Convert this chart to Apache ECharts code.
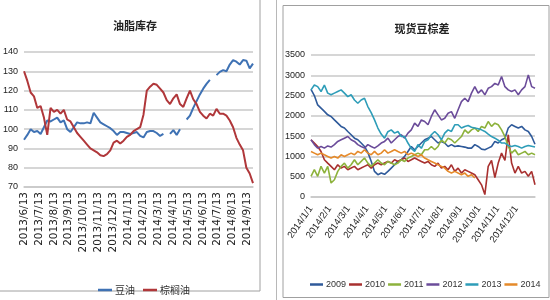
<!DOCTYPE html>
<html><head><meta charset="utf-8">
<script src="https://cdn.jsdelivr.net/npm/echarts@6/dist/echarts.min.js"></script>
<style>html,body{margin:0;padding:0;background:#fff}#c{width:550px;height:300px}</style>
</head><body><div id="c"></div>
<script>
// ---- left chart: 油脂库存 ----
const leftTicks = ['2013/6/13','2013/7/13','2013/8/13','2013/9/13','2013/10/13','2013/11/13','2013/12/13','2014/1/13','2014/2/13','2014/3/13','2014/4/13','2014/5/13','2014/6/13','2014/7/13','2014/8/13','2014/9/13'];
const leftSpanMonths = 15.37;
const soyOil = [94.5,97,100,98.5,99,97.5,101,104.5,104,105,106,103.5,104.5,100,98.5,101,103.5,103,103,103.5,103,108.5,106,103.5,102.5,101.5,100.5,99,97,98.5,98.5,98,97.5,98,98.5,96.5,95.7,98.5,99,99,98,96.5,97.5,null,97.5,99.5,97,100,null,105,107,111,114.5,118,121,123.5,125.5,null,128,129.7,130.6,130,133.5,135.8,135,133.5,135.8,135.5,131.5,134];
const palmOil = [130,125,119,117,111,112,106,97,111,109,110,108,110,105,104,101,98,96,94,92,90,89,88,86.5,86,87,89,93,94,92.5,94,96,97,99,100,101,107.5,120,122,123.5,123,121,119,115,113,116,118,113,111.5,116,120,115.5,113,109,107,105.5,108,107,110.5,108,108,107,104.5,101,95.5,92,89,80,77,72];

// ---- right chart: 现货豆棕差 ----
const rightTicks = ['2014/1/1','2014/2/1','2014/3/1','2014/4/1','2014/5/1','2014/6/1','2014/7/1','2014/8/1','2014/9/1','2014/10/1','2014/11/1','2014/12/1'];
const rightSpanMonths = 12;
const y2009 = [2650,2500,2270,2190,2110,2025,1985,1900,1820,1740,1700,1615,1535,1450,1410,1330,1245,1100,880,631,550,590,560,631,713,795,877,918,1000,1123,1245,1165,1245,1330,1410,1450,1490,1410,1330,1370,1330,1245,1290,1245,1260,1245,1230,1205,1205,1290,1245,1180,1165,1205,1245,1370,1330,1410,1450,1700,1780,1740,1700,1740,1655,1615,1490,1300];
const y2010 = [1410,1330,1245,1123,918,836,755,672,795,713,755,672,713,755,672,713,755,795,713,795,836,795,836,877,836,918,877,918,960,877,918,960,918,877,836,877,795,755,836,713,755,672,795,631,713,590,672,631,590,550,426,300,60,755,900,480,836,1082,900,1535,836,590,755,590,631,510,631,303];
const y2011 = [510,672,510,755,590,755,345,426,631,755,836,713,795,918,795,877,960,836,755,836,918,836,795,877,836,795,836,918,877,960,1000,1040,1082,1040,1165,1165,1245,1165,1245,1410,1330,1450,1410,1330,1410,1490,1655,1575,1655,1700,1615,1740,1700,1860,1740,1820,1780,1655,1490,1245,1082,1165,1040,1082,1123,1040,1082,1040];
const y2012 = [1410,1290,1205,1245,1205,1260,1230,1290,1370,1410,1450,1490,1410,1370,1290,1245,1205,1290,1245,1205,1260,1330,1370,1450,1330,1410,1490,1535,1450,1575,1655,1820,1740,1900,1860,1780,1985,2150,2025,1900,1940,2065,2105,1940,2150,2350,2435,2350,2560,2720,2560,2640,2520,2680,2720,2800,2760,2970,2720,2640,2600,2640,2520,2640,2720,3010,2720,2680];
const y2013 = [2640,2760,2720,2600,2760,2560,2520,2560,2600,2640,2560,2475,2520,2390,2310,2390,2435,2230,2080,1900,1700,1550,1450,1610,1655,1575,1615,1490,1490,1330,1200,1125,1290,1200,1370,1410,1535,1615,1535,1410,1575,1655,1615,1780,1780,1700,1740,1760,1720,1700,1680,1655,1615,1550,1490,1450,1400,1330,1330,1270,1245,1270,1245,1205,1245,1270,1250,1230];
const y2014 = [1123,1082,1040,1082,1040,1000,960,1000,960,1040,1000,1040,1082,1040,1123,1082,1165,1082,1040,1123,1040,1082,1165,1082,1123,1165,1123,1082,1123,1040,1082,1040,1000,1040,960,918,877,836,795,755,713,631,590,631,590,550,590,510,550,467];
const yearNames = ['2009','2010','2011','2012','2013','2014'];
const yearData = [y2009,y2010,y2011,y2012,y2013,y2014];
const yearColors = ['#2F5A9A','#A8302F','#8DB23C','#6B4C9A','#2E9DB8','#E58A2A'];

function pairs(arr, span, n) {
  const step = span / (n - 1);
  return arr.map((v, i) => [i * step, v]);
}

const chart = echarts.init(document.getElementById('c'));
const labelFont = 'Liberation Sans';
const series = [
  {name:'豆油', type:'line', xAxisIndex:0, yAxisIndex:0, showSymbol:false, symbol:'none', connectNulls:false,
   data: pairs(soyOil, leftSpanMonths, soyOil.length), lineStyle:{width:2, color:'#3F72B4'}, itemStyle:{color:'#3F72B4'}},
  {name:'棕榈油', type:'line', xAxisIndex:0, yAxisIndex:0, showSymbol:false, symbol:'none',
   data: pairs(palmOil, leftSpanMonths, palmOil.length), lineStyle:{width:2, color:'#B0373A'}, itemStyle:{color:'#B0373A'}}
];
yearNames.forEach((nm, k) => {
  series.push({name:nm, type:'line', xAxisIndex:1, yAxisIndex:1, showSymbol:false, symbol:'none',
    data: pairs(yearData[k], rightSpanMonths * (yearData[k].length - 1) / (y2009.length - 1), yearData[k].length),
    lineStyle:{width:1.6, color:yearColors[k]}, itemStyle:{color:yearColors[k]}});
});

chart.setOption({
  animation:false,
  backgroundColor:'#fff',
  title:[
    {text:'油脂库存', left:130, top:15, textAlign:'center', textStyle:{fontFamily:'Noto Sans CJK SC', fontSize:11, fontWeight:'bold', color:'#222'}},
    {text:'现货豆棕差', left:417, top:18, textAlign:'center', textStyle:{fontFamily:'Noto Sans CJK SC', fontSize:11, fontWeight:'bold', color:'#222'}}
  ],
  legend:[
    {data:['豆油','棕榈油'], left:93, top:280, icon:'rect', itemWidth:14, itemHeight:2.5, itemGap:8,
     textStyle:{fontFamily:'Noto Sans CJK SC', fontSize:10, color:'#333', padding:[0,0,0,-2]}},
    {data:yearNames, left:305, top:275, width:260, icon:'rect', itemWidth:13, itemHeight:2.5, itemGap:3,
     textStyle:{fontFamily:labelFont, fontSize:9, color:'#333', padding:[0,0,0,-2]}}
  ],
  grid:[
    {left:22, right:297, top:52, bottom:113},
    {left:311, right:15, top:55, bottom:103}
  ],
  xAxis:[
    {type:'value', gridIndex:0, min:0, max:leftSpanMonths, interval:1,
     axisLine:{show:true, lineStyle:{color:'#c8c8c8', width:1.5}}, axisTick:{show:false}, splitLine:{show:false},
     axisLabel:{rotate:90, margin:5, fontSize:10.5, fontFamily:'DejaVu Sans', color:'#222', showMaxLabel:false,
       formatter:v => (Math.abs(v - Math.round(v)) < 1e-6 && leftTicks[Math.round(v)]) || ''}},
    {type:'value', gridIndex:1, min:0, max:rightSpanMonths, interval:1,
     axisLine:{show:true, lineStyle:{color:'#c8c8c8', width:1.5}}, axisTick:{show:false}, splitLine:{show:false},
     axisLabel:{rotate:55, margin:10, fontSize:9.5, fontFamily:labelFont, color:'#222', showMaxLabel:false,
       formatter:v => (Math.abs(v - Math.round(v)) < 1e-6 && rightTicks[Math.round(v)]) || ''}}
  ],
  yAxis:[
    {type:'value', gridIndex:0, min:70, max:140, interval:10,
     axisLine:{show:false}, axisTick:{show:false},
     splitLine:{lineStyle:{color:'#c8c8c8', width:1.5}},
     axisLabel:{fontSize:9, fontFamily:labelFont, color:'#222', margin:6, formatter:v => String(v)}},
    {type:'value', gridIndex:1, min:0, max:3500, interval:500,
     axisLine:{show:false}, axisTick:{show:false},
     splitLine:{lineStyle:{color:'#c8c8c8', width:1.5}},
     axisLabel:{fontSize:9, fontFamily:labelFont, color:'#222', margin:6, formatter:v => String(v)}}
  ],
  graphic:[
    {type:'rect', z:-1, shape:{x:-1, y:-1, width:261, height:292}, style:{fill:'none', stroke:'#a0a0a0', lineWidth:1}},
    {type:'line', z:-1, shape:{x1:276.5, y1:0, x2:276.5, y2:300}, style:{stroke:'#b8b8b8', lineWidth:1}},
    {type:'rect', z:-1, shape:{x:283, y:5.5, width:266, height:292}, style:{fill:'none', stroke:'#a0a0a0', lineWidth:1}}
  ],
  series
});
</script>
</body></html>
